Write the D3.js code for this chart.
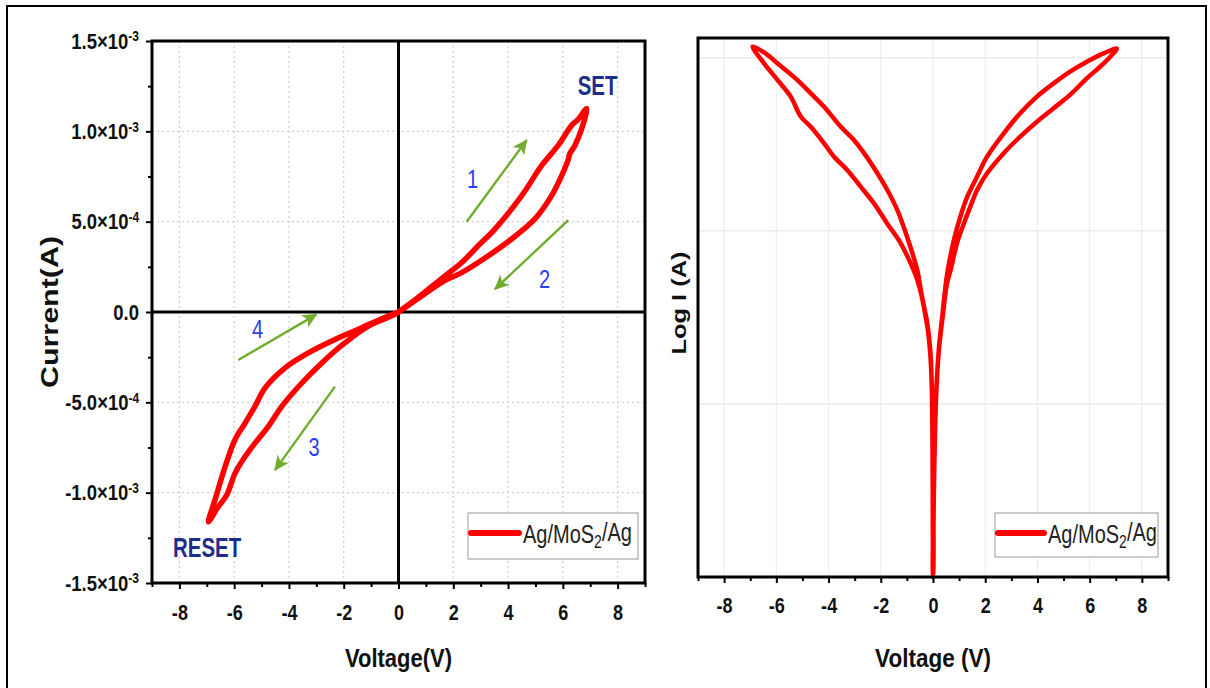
<!DOCTYPE html>
<html><head><meta charset="utf-8">
<script src="https://cdn.jsdelivr.net/npm/d3@7"></script>
<style>
html,body{margin:0;padding:0;background:#fff;}
svg{display:block;font-family:"Liberation Sans",Arial,Helvetica,sans-serif;}
</style></head><body>
<svg id="chart" width="1210" height="688"></svg>
<script>
// ---------------- DATA ----------------
const voltageTicks = [-8, -6, -4, -2, 0, 2, 4, 6, 8];
const voltageMinorTicks = [-9, -7, -5, -3, -1, 1, 3, 5, 7, 9];
const currentTicks = [-1.5e-3, -1.0e-3, -5e-4, 0, 5e-4, 1.0e-3, 1.5e-3];
const currentMinorTicks = [-1.25e-3, -7.5e-4, -2.5e-4, 2.5e-4, 7.5e-4, 1.25e-3];
const logGridValues = [1e-3, 1e-4, 1e-5];

// Linear I-V sweep (left panel): 1) 0 -> +7 V, 2) +7 -> 0, 3) 0 -> -7, 4) -7 -> 0
const linearV1 = [0, 0.5, 1.09, 1.7, 2.31, 2.9, 3.52, 4.5, 5.23, 5.83, 6.32, 6.55, 6.87];
const linearI1 = [0, 5.5e-5, 1.26e-4, 2.0e-4, 2.74e-4, 3.65e-4, 4.59e-4, 6.44e-4, 8.11e-4, 9.22e-4, 1.033e-3, 1.065e-3, 1.126e-3];
const linearV2 = [6.87, 6.69, 6.44, 6.25, 6.2, 5.96, 5.59, 4.98, 4.13, 3.28, 2.31, 1.70, 0.85, 0];
const linearI2 = [1.126e-3, 1.015e-3, 9.22e-4, 8.75e-4, 8.45e-4, 7.56e-4, 6.44e-4, 5.15e-4, 4.04e-4, 3.11e-4, 2.18e-4, 1.75e-4, 8.9e-5, 0];
const linearV3 = [0, -0.13, -1.10, -1.95, -2.80, -3.53, -4.26, -4.75, -5.24, -5.60, -5.97, -6.27, -6.58, -6.94];
const linearI3 = [0, -1.3e-5, -7.8e-5, -1.7e-4, -2.82e-4, -3.93e-4, -5.22e-4, -6.33e-4, -7.26e-4, -8.0e-4, -8.93e-4, -1.013e-3, -1.078e-3, -1.161e-3];
const linearV4 = [-6.94, -6.70, -6.33, -5.97, -5.60, -5.24, -4.87, -4.14, -3.29, -2.32, -1.34, -0.5, 0];
const linearI4 = [-1.161e-3, -1.04e-3, -8.56e-4, -7.07e-4, -6.15e-4, -5.22e-4, -4.2e-4, -3.09e-4, -2.26e-4, -1.52e-4, -8.7e-5, -3.0e-5, 0];

// |I| on log scale (right panel), same four sweeps
const logV1 = [0, 0.005, 0.02, 0.04, 0.11, 0.22, 0.35, 0.54, 0.80, 1.05, 1.31, 1.69, 2.07, 2.71, 3.34, 3.98, 4.62, 5.25, 5.89, 6.53, 7.04];
const logI1 = [0, 1.0e-6, 2.5e-6, 4.0e-6, 1.05e-5, 2.04e-5, 3.16e-5, 5.6e-5, 8.85e-5, 1.21e-4, 1.57e-4, 2.06e-4, 2.68e-4, 3.66e-4, 4.78e-4, 5.96e-4, 7.11e-4, 8.30e-4, 9.48e-4, 1.06e-3, 1.13e-3];
const logV2 = [7.04, 6.78, 6.40, 5.89, 5.25, 4.62, 3.98, 3.34, 2.71, 2.07, 1.69, 1.43, 1.18, 0.92, 0.67, 0.54, 0.35, 0.22, 0.11, 0.04, 0.02, 0.005, 0];
const logI2 = [1.13e-3, 1.01e-3, 8.87e-4, 7.60e-4, 6.10e-4, 5.11e-4, 4.27e-4, 3.50e-4, 2.81e-4, 2.15e-4, 1.72e-4, 1.38e-4, 1.10e-4, 8.5e-5, 5.9e-5, 5.0e-5, 3.0e-5, 2.0e-5, 1.0e-5, 3.5e-6, 2.0e-6, 1.0e-6, 0];
const logV3 = [0, -0.005, -0.02, -0.05, -0.1, -0.2, -0.3, -0.45, -0.60, -0.99, -1.37, -1.75, -2.13, -2.64, -3.03, -3.53, -4.17, -4.68, -5.19, -5.95, -6.34, -6.91];
const logI3 = [0, 1.6e-6, 6.3e-6, 1.32e-5, 2.0e-5, 2.8e-5, 3.4e-5, 4.4e-5, 5.9e-5, 9.2e-5, 1.32e-4, 1.72e-4, 2.15e-4, 2.81e-4, 3.35e-4, 3.99e-4, 5.21e-4, 6.22e-4, 7.43e-4, 9.27e-4, 1.04e-3, 1.16e-3];
const logV4 = [-6.91, -6.47, -5.95, -5.45, -5.06, -4.68, -4.17, -3.79, -3.28, -2.77, -2.26, -1.75, -1.24, -0.86, -0.60, -0.45, -0.3, -0.2, -0.1, -0.05, -0.02, -0.005, 0];
const logI4 = [1.16e-3, 9.27e-4, 7.43e-4, 5.96e-4, 4.56e-4, 3.99e-4, 3.20e-4, 2.68e-4, 2.24e-4, 1.80e-4, 1.44e-4, 1.10e-4, 8.5e-5, 6.5e-5, 5.2e-5, 4.3e-5, 3.3e-5, 2.7e-5, 1.9e-5, 1.3e-5, 6e-6, 1.5e-6, 0];

// Annotations (in data units of the left panel)
const stateLabels = ["SET", "RESET"];
const stateV = [7.27, -6.99];
const stateI = [1.20e-3, -1.356e-3];
const sweepLabels = ["1", "2", "3", "4"];
const sweepLabelV = [2.70, 5.33, -3.08, -5.15];
const sweepLabelI = [6.86e-4, 1.33e-4, -7.97e-4, -1.44e-4];
const arrowFromV = [2.49, 6.20, -2.32, -5.85];
const arrowFromI = [5.0e-4, 5.09e-4, -4.13e-4, -2.66e-4];
const arrowToV = [4.68, 3.52, -4.51, -2.99];
const arrowToI = [9.52e-4, 1.26e-4, -8.75e-4, -1.3e-5];

const legendLabel = ["Ag/MoS", "2", "/Ag"];
const xTitleLeft = "Voltage(V)";
const xTitleRight = "Voltage (V)";
const yTitleLeft = "Current(A)";
const yTitleRight = "Log I (A)";

// ---------------- HELPERS ----------------
const svg = d3.select("#chart");
const RED = "#ff0000";
function squeeze(sel, k, ox) {
  sel.style("transform-box", "fill-box").style("transform-origin", ox + " 50%").style("transform", `scaleX(${k})`);
}
function joinSweeps(pairs) {
  const pts = [];
  pairs.forEach(([vs, is], bi) => {
    vs.forEach((v, i) => { if (bi > 0 && i === 0) return; pts.push([v, is[i]]); });
  });
  return pts;
}
function sciParts(v) {
  if (v === 0) return ["0.0", null];
  const e = Math.floor(Math.log10(Math.abs(v)) + 1e-9);
  const m = (v / Math.pow(10, e)).toFixed(1);
  return [m + "\u00d710", String(e)];
}

// outer border
svg.append("rect").attr("x", 7).attr("y", 6).attr("width", 1199).attr("height", 720)
  .attr("fill", "none").attr("stroke", "#000").attr("stroke-width", 2);

// ================= LEFT PANEL =================
const L = {left: 152, right: 645, top: 41, bottom: 583};
const xL = d3.scaleLinear().domain([-9, 9]).range([L.left, L.right]);
const yL = d3.scaleLinear().domain([-1.5e-3, 1.5e-3]).range([L.bottom, L.top]);
const gL = svg.append("g");

// grid
gL.append("g").selectAll("line").data(voltageTicks.filter(v => v !== 0)).join("line")
  .attr("x1", d => xL(d)).attr("x2", d => xL(d)).attr("y1", L.top).attr("y2", L.bottom)
  .attr("stroke", "#cfcfcf").attr("stroke-width", 1.2).attr("stroke-dasharray", "2,3");
gL.append("g").selectAll("line").data(currentTicks.filter(v => v !== 0 && Math.abs(v) < 1.4e-3)).join("line")
  .attr("y1", d => yL(d)).attr("y2", d => yL(d)).attr("x1", L.left).attr("x2", L.right)
  .attr("stroke", "#cfcfcf").attr("stroke-width", 1.2).attr("stroke-dasharray", "2,3");

// zero lines
gL.append("line").attr("x1", xL(0)).attr("x2", xL(0)).attr("y1", L.top).attr("y2", L.bottom)
  .attr("stroke", "#000").attr("stroke-width", 3);
gL.append("line").attr("y1", yL(0)).attr("y2", yL(0)).attr("x1", L.left).attr("x2", L.right)
  .attr("stroke", "#000").attr("stroke-width", 3);

// curve
const linPts = joinSweeps([[linearV1, linearI1], [linearV2, linearI2], [linearV3, linearI3], [linearV4, linearI4]]);
const lineL = d3.line().x(d => xL(d[0])).y(d => yL(d[1])).curve(d3.curveCatmullRom.alpha(0.5));
gL.append("path").datum(linPts).attr("d", lineL).attr("fill", "none").attr("stroke", RED)
  .attr("stroke-width", 5.5).attr("stroke-linejoin", "round").attr("stroke-linecap", "round");

// axes
function styleAxis(g) {
  g.select(".domain").remove();
  g.selectAll(".tick line").attr("stroke", "#000").attr("stroke-width", 2);
  g.attr("font-family", null).attr("font-size", null);
}
const axXL = gL.append("g").attr("transform", `translate(0,${L.bottom})`)
  .call(d3.axisBottom(xL).tickValues(voltageTicks).tickSize(6).tickPadding(15).tickFormat(d => String(d)));
styleAxis(axXL);
gL.append("g").attr("transform", `translate(0,${L.bottom})`)
  .call(d3.axisBottom(xL).tickValues(voltageMinorTicks).tickSize(4).tickFormat(""))
  .call(styleAxis);
axXL.selectAll("text").attr("font-size", 22).attr("font-weight", "bold").attr("fill", "#111")
  .call(squeeze, 0.82, "50%");

const axYL = gL.append("g").attr("transform", `translate(${L.left},0)`)
  .call(d3.axisLeft(yL).tickValues(currentTicks).tickSize(6).tickPadding(7));
styleAxis(axYL);
gL.append("g").attr("transform", `translate(${L.left},0)`)
  .call(d3.axisLeft(yL).tickValues(currentMinorTicks).tickSize(4).tickFormat(""))
  .call(styleAxis);
axYL.selectAll("text").each(function(d) {
  const t = d3.select(this).text("");
  const [m, e] = sciParts(d);
  t.append("tspan").text(m);
  if (e !== null) t.append("tspan").attr("dy", "-0.5em").attr("font-size", "0.65em").text(e);
}).attr("font-size", 22).attr("font-weight", "bold").attr("fill", "#111")
  .call(squeeze, 0.84, "100%");

// frame
gL.append("rect").attr("x", L.left).attr("y", L.top).attr("width", L.right - L.left).attr("height", L.bottom - L.top)
  .attr("fill", "none").attr("stroke", "#000").attr("stroke-width", 3);

// legend
function drawLegend(g, x, y, w, h, lineLen) {
  g.append("rect").attr("x", x).attr("y", y).attr("width", w).attr("height", h)
    .attr("fill", "#fff").attr("stroke", "#ababab").attr("stroke-width", 1.2);
  g.append("line").attr("x1", x + 3).attr("x2", x + 3 + lineLen).attr("y1", y + 20).attr("y2", y + 20)
    .attr("stroke", RED).attr("stroke-width", 6).attr("stroke-linecap", "round");
  const t = g.append("text").attr("x", x + lineLen + 7).attr("y", y + 30).attr("font-size", 25).attr("fill", "#222");
  t.append("tspan").text(legendLabel[0]);
  t.append("tspan").attr("dy", "0.3em").attr("font-size", "0.7em").text(legendLabel[1]);
  t.append("tspan").attr("dy", "-0.3em").text(legendLabel[2]);
  t.call(squeeze, 0.8, "0%");
}
drawLegend(gL, 468, 513, 170, 46, 48);

// arrows
const defs = svg.append("defs");
defs.append("marker").attr("id", "ahead").attr("markerUnits", "userSpaceOnUse")
  .attr("markerWidth", 16).attr("markerHeight", 14).attr("refX", 14).attr("refY", 7).attr("orient", "auto")
  .append("path").attr("d", "M0,0 L15,7 L0,14 L4,7 Z").attr("fill", "#70ac2e");
gL.append("g").selectAll("line").data(d3.range(arrowFromV.length)).join("line")
  .attr("x1", i => xL(arrowFromV[i])).attr("y1", i => yL(arrowFromI[i]))
  .attr("x2", i => xL(arrowToV[i])).attr("y2", i => yL(arrowToI[i]))
  .attr("stroke", "#70ac2e").attr("stroke-width", 2.4).attr("marker-end", "url(#ahead)");

// sweep numbers
gL.append("g").selectAll("text").data(d3.range(sweepLabels.length)).join("text")
  .attr("x", i => xL(sweepLabelV[i])).attr("y", i => yL(sweepLabelI[i]))
  .attr("text-anchor", "middle").attr("font-size", 25).attr("fill", "#2f3cf0")
  .text(i => sweepLabels[i]).call(squeeze, 0.8, "50%");

// SET / RESET
gL.append("g").selectAll("text").data(d3.range(stateLabels.length)).join("text")
  .attr("x", i => xL(stateV[i])).attr("y", i => yL(stateI[i]))
  .attr("text-anchor", "middle").attr("font-size", 28).attr("font-weight", "bold").attr("fill", "#1d2d8a")
  .text(i => stateLabels[i]).call(squeeze, 0.73, "50%");

// titles
gL.append("text").attr("x", xL(0)).attr("y", 667).attr("text-anchor", "middle")
  .attr("font-size", 25).attr("font-weight", "bold").attr("fill", "#111").text(xTitleLeft)
  .call(squeeze, 0.88, "50%");
gL.append("text").attr("transform", `translate(58,${yL(0)}) rotate(-90) scale(1.05,0.8)`)
  .attr("text-anchor", "middle").attr("font-size", 29).attr("font-weight", "bold").attr("fill", "#111")
  .text(yTitleLeft);

// ================= RIGHT PANEL =================
const R = {left: 698, right: 1168, top: 38, bottom: 577};
const xR = d3.scaleLinear().domain([-9, 9]).range([R.left, R.right]);
const yR = d3.scaleLog().domain([1e-6, 1.3e-3]).range([R.bottom, R.top]).clamp(true);
const gR = svg.append("g");

gR.append("g").selectAll("line").data(voltageTicks).join("line")
  .attr("x1", d => xR(d)).attr("x2", d => xR(d)).attr("y1", R.top).attr("y2", R.bottom)
  .attr("stroke", "#eeeeee").attr("stroke-width", 1.2);
gR.append("g").selectAll("line").data(logGridValues).join("line")
  .attr("y1", d => yR(d)).attr("y2", d => yR(d)).attr("x1", R.left).attr("x2", R.right)
  .attr("stroke", "#eaeaea").attr("stroke-width", 1.5);

const logPts = joinSweeps([[logV1, logI1], [logV2, logI2], [logV3, logI3], [logV4, logI4]]);
const floorI = yR.domain()[0];
const lineR = d3.line().x(d => xR(d[0])).y(d => yR(Math.max(d[1], floorI))).curve(d3.curveCatmullRom.alpha(0.5));
gR.append("path").datum(logPts).attr("d", lineR).attr("fill", "none").attr("stroke", RED)
  .attr("stroke-width", 4.5).attr("stroke-linejoin", "round").attr("stroke-linecap", "round");

const axXR = gR.append("g").attr("transform", `translate(0,${R.bottom})`)
  .call(d3.axisBottom(xR).tickValues(voltageTicks).tickSize(6).tickPadding(14).tickFormat(d => String(d)));
styleAxis(axXR);
gR.append("g").attr("transform", `translate(0,${R.bottom})`)
  .call(d3.axisBottom(xR).tickValues(voltageMinorTicks).tickSize(4).tickFormat(""))
  .call(styleAxis);
axXR.selectAll("text").attr("font-size", 22).attr("font-weight", "bold").attr("fill", "#111")
  .call(squeeze, 0.82, "50%");

gR.append("rect").attr("x", R.left).attr("y", R.top).attr("width", R.right - R.left).attr("height", R.bottom - R.top)
  .attr("fill", "none").attr("stroke", "#000").attr("stroke-width", 3);

drawLegend(gR, 995, 513, 163, 44, 46);

gR.append("text").attr("x", xR(0)).attr("y", 667).attr("text-anchor", "middle")
  .attr("font-size", 25).attr("font-weight", "bold").attr("fill", "#111").text(xTitleRight)
  .call(squeeze, 0.9, "50%");
gR.append("text").attr("transform", `translate(686,303) rotate(-90) scale(1.06,0.82)`)
  .attr("text-anchor", "middle").attr("font-size", 24).attr("font-weight", "bold").attr("fill", "#111")
  .text(yTitleRight);
</script>
</body></html>
